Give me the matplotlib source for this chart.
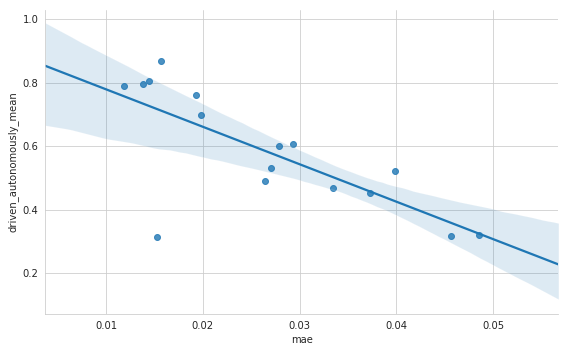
import matplotlib
matplotlib.use('Agg')
import numpy as np
import pandas as pd
import seaborn as sns
import matplotlib.pyplot as plt

# valores
mae = [0.01186, 0.01382, 0.01444, 0.01568, 0.01527, 0.0193, 0.0198, 0.02643,
       0.0270, 0.0279, 0.0293, 0.0334, 0.0373, 0.0398, 0.0456, 0.0485]
driven = [0.789, 0.795, 0.805, 0.868, 0.313, 0.761, 0.70, 0.491,
          0.531, 0.60, 0.606, 0.468, 0.452, 0.521, 0.316, 0.322]

data = pd.DataFrame({'mae': mae, 'driven_autonomously_mean': driven})

sns.set_style('whitegrid')

fig = plt.figure(figsize=(568 / 72, 352 / 72), dpi=72)
ax = fig.add_axes([0.0798, 0.108, 0.9032, 0.8636])
ax.set_xlim(0.00373, 0.05672)
ax.set_ylim(0.072, 1.029)

sns.regplot(data=data, x='mae', y='driven_autonomously_mean', ax=ax,
            truncate=False, seed=3)

ax.set_xlim(0.00373, 0.05672)
ax.set_ylim(0.072, 1.029)
ax.set_yticks([0.2, 0.4, 0.6, 0.8, 1.0])
sns.despine(ax=ax)

fig.savefig('out.png', dpi=72)
